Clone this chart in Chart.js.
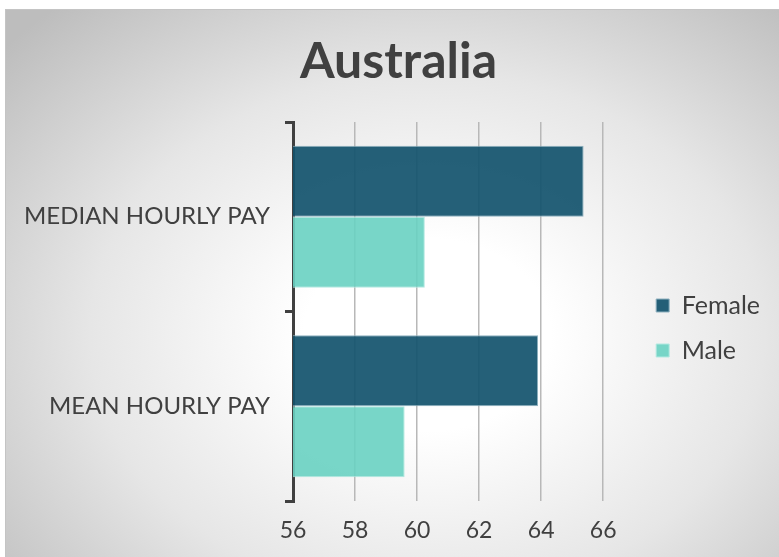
<!DOCTYPE html>
<html>
<head>
<meta charset="utf-8">
<script src="https://cdn.jsdelivr.net/npm/chart.js@4.4.1/dist/chart.umd.min.js"></script>
<style>
  html, body { margin: 0; padding: 0; background: #fff; width: 779px; height: 557px; overflow: hidden; }
  #frame {
    position: absolute; left: 5px; top: 9px; width: 780px; height: 560px;
    border: 1px solid #c4c4c4;
    background: radial-gradient(ellipse 72% 78% at 54% 58%, #ffffff 0%, #ffffff 22%, #e6e6e6 60%, #bdbdbd 100%);
  }
  #chart { position: absolute; left: 0; top: 0; }
</style>
</head>
<body>
<div id="frame"></div>
<canvas id="chart" width="779" height="557"></canvas>
<script>
const categories = ['MEDIAN HOURLY PAY', 'MEAN HOURLY PAY'];
const femaleValues = [65.37, 63.9];
const maleValues = [60.25, 59.6];

const textColor = '#404040';

// nudge the legend further right and keep the title centred on the slide
const nudge = {
  id: 'nudge',
  afterLayout(chart) {
    const lg = chart.legend;
    lg.left += 33; lg.right += 33;
    lg.top += 40; lg.bottom += 40;
    const t = chart.titleBlock;
    t.left = 0; t.right = 797;
  }
};

new Chart(document.getElementById('chart').getContext('2d'), {
  type: 'bar',
  data: {
    labels: categories,
    datasets: [{
      label: 'Female',
      data: femaleValues,
      backgroundColor: 'rgba(18, 82, 108, 0.92)',
      borderColor: '#8fb1bf',
      borderWidth: 1,
      categoryPercentage: 0.75,
      barPercentage: 1
    }, {
      label: 'Male',
      data: maleValues,
      backgroundColor: 'rgba(105, 209, 194, 0.9)',
      borderColor: '#b3e9e1',
      borderWidth: 1,
      categoryPercentage: 0.75,
      barPercentage: 1
    }]
  },
  options: {
    indexAxis: 'y',
    responsive: false,
    animation: false,
    layout: { padding: { left: 15, right: 42, top: 32, bottom: 13 } },
    plugins: {
      title: {
        display: true,
        text: 'Australia',
        color: textColor,
        font: { family: 'Lato', size: 50, weight: 'bold' },
        padding: { top: 0, bottom: 30 }
      },
      legend: {
        position: 'right',
        labels: {
          color: textColor,
          font: { family: 'Lato', size: 25 },
          boxWidth: 13,
          boxHeight: 13,
          padding: 20
        }
      },
      tooltip: { enabled: false }
    },
    scales: {
      x: {
        min: 56,
        max: 66,
        afterFit(s) { s.height = 43; },
        ticks: { stepSize: 2, color: textColor, font: { family: 'Lato', size: 23 }, padding: 16 },
        grid: { color: '#b8b8b8', lineWidth: 1.5, drawTicks: false },
        border: { display: false }
      },
      y: {
        afterFit(s) { s.width = 278; s.paddingTop = 0; s.paddingBottom = 0; },
        ticks: { color: textColor, font: { family: 'Lato', size: 24 }, padding: 15 },
        grid: { drawOnChartArea: false, drawTicks: true, tickLength: 8, color: textColor, lineWidth: 3 },
        border: { display: true, color: textColor, width: 3 }
      }
    }
  },
  plugins: [nudge]
});
</script>
</body>
</html>
